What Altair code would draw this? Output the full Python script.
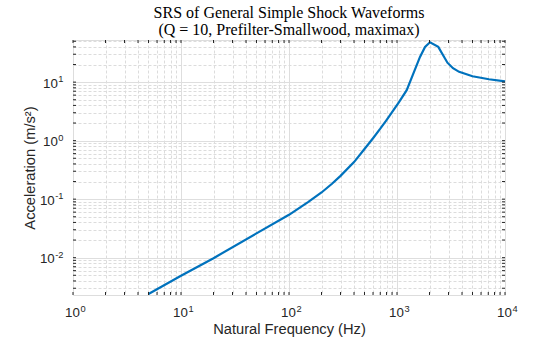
import altair as alt
import pandas as pd

# Natural frequency (Hz) and SRS acceleration (m/s^2)
freq = [5, 10, 20, 50, 100, 150, 200, 250, 300, 400, 500, 600, 700, 800, 924,
        1040, 1230, 1416, 1633, 1818, 2020, 2410, 2930, 3300, 3760, 5000, 7100, 10000]
accel = [0.0024, 0.0049, 0.0098, 0.026, 0.054, 0.089, 0.13, 0.183, 0.25, 0.43,
         0.72, 1.1, 1.6, 2.25, 3.3, 4.5, 7.3, 14, 27, 40, 48, 40, 21.5, 17.3,
         15, 12.6, 11.2, 10.3]

x_domain = [1, 10000]
y_domain = [0.0023, 52.5]

x_major = [1, 10, 100, 1000, 10000]
x_minor = [m * d for d in [1, 10, 100, 1000] for m in range(2, 10)]
y_major = [0.01, 0.1, 1, 10]
y_minor = [m * d for d in [0.001, 0.01, 0.1, 1, 10] for m in range(2, 10)
           if y_domain[0] <= m * d <= y_domain[1]]
x_all = sorted(x_major + x_minor)
y_all = sorted(y_major + y_minor)

W, H = 432, 255
INK = "#262626"
SANS = "Liberation Sans"
LBL = 13.3
SUP = 9.3
TT = 14.7

df = pd.DataFrame({"f": freq, "a": accel})
xt = pd.DataFrame({"v": x_all})
yt = pd.DataFrame({"v": y_all})

xs = alt.Scale(type="log", domain=x_domain, nice=False)
ys = alt.Scale(type="log", domain=y_domain, nice=False)

expo = "'' + round(log(datum.value)/LN10)"
edge = "datum.value <= 1 || datum.value >= 10000"

base = alt.Chart(df)

main = base.mark_line(color="#0072BD", strokeWidth=2.2).encode(
    x=alt.X("f:Q", scale=xs, axis=alt.Axis(
        orient="bottom", values=x_major, labelExpr="'10'", grid=True,
        gridColor="#dedede", gridWidth=1,
        gridOpacity={"condition": {"test": edge, "value": 0}, "value": 1},
        ticks=False, domain=False, labelFlush=False, labelOverlap=False,
        labelFont=SANS, labelFontSize=LBL, labelColor=INK, labelPadding=10.5,
        labelAlign="center", labelBaseline="top", labelOffset=-1,
        title="Natural Frequency (Hz)", titleFont=SANS, titleFontSize=TT,
        titleFontWeight="normal", titleColor=INK, titleX=W / 2, titleY=38.5,
        titleAlign="center", titleBaseline="alphabetic", zindex=0)),
    y=alt.Y("a:Q", scale=ys, axis=alt.Axis(
        orient="left", values=y_major, labelExpr="'10'", grid=True,
        gridColor="#dedede", gridWidth=1,
        ticks=False, domain=False, labelFlush=False, labelOverlap=False,
        labelFont=SANS, labelFontSize=LBL, labelColor=INK,
        labelPadding={"condition": {"test": "datum.value < 1", "value": 18.8}, "value": 15.7},
        labelAlign="right", labelBaseline="middle", labelOffset=1,
        title="Acceleration (m/s\u00b2)", titleFont=SANS, titleFontSize=TT,
        titleFontWeight="normal", titleColor=INK, titleX=-38.5, titleY=H / 2,
        titleAngle=270, titleAlign="center", titleBaseline="alphabetic", zindex=0)),
)

minor = base.mark_line(opacity=0).encode(
    x=alt.X("f:Q", scale=xs, axis=alt.Axis(
        orient="bottom", values=x_minor, grid=True, gridColor="#dcdcdc",
        gridDash=[3, 2], labels=False, ticks=False, domain=False, title=None, zindex=0)),
    y=alt.Y("a:Q", scale=ys, axis=alt.Axis(
        orient="left", values=y_minor, grid=True, gridColor="#dcdcdc",
        gridDash=[3, 2], labels=False, ticks=False, domain=False, title=None, zindex=0)),
)

# superscript exponents of the "10" tick labels
sup = base.mark_line(opacity=0).encode(
    x=alt.X("f:Q", scale=xs, axis=alt.Axis(
        orient="bottom", values=x_major, labelExpr=expo, grid=False, ticks=False,
        domain=False, labelFlush=False, labelOverlap=False, labelFont=SANS,
        labelFontSize=SUP, labelColor=INK, labelAlign="left", labelBaseline="top",
        labelPadding=9, labelOffset=7, title=None, zindex=0)),
    y=alt.Y("a:Q", scale=ys, axis=alt.Axis(
        orient="left", values=y_major, labelExpr=expo, grid=False, ticks=False,
        domain=False, labelFlush=False, labelOverlap=False, labelFont=SANS,
        labelFontSize=SUP, labelColor=INK, labelAlign="right", labelBaseline="middle",
        labelPadding=10, labelOffset=-3.5, title=None, zindex=0)),
)

# inward tick marks on all four sides
tick_x = alt.Chart(xt)
tick_y = alt.Chart(yt)
tb = tick_x.mark_rule(color=INK, strokeWidth=1).encode(
    x=alt.X("v:Q", scale=xs, axis=None), y=alt.value(H), y2=alt.value(H - 3))
tt = tick_x.mark_rule(color=INK, strokeWidth=1).encode(
    x=alt.X("v:Q", scale=xs, axis=None), y=alt.value(0), y2=alt.value(3))
tl = tick_y.mark_rule(color=INK, strokeWidth=1).encode(
    y=alt.Y("v:Q", scale=ys, axis=None), x=alt.value(0), x2=alt.value(3))
tr = tick_y.mark_rule(color=INK, strokeWidth=1).encode(
    y=alt.Y("v:Q", scale=ys, axis=None), x=alt.value(W), x2=alt.value(W - 3))

chart = alt.layer(main, minor, sup, tb, tt, tl, tr).resolve_axis(
    x="independent", y="independent"
).properties(
    width=W, height=H,
    title=alt.TitleParams(
        text=["SRS of General Simple Shock Waveforms",
              "(Q = 10, Prefilter-Smallwood, maximax)"],
        font="Liberation Serif", fontSize=16, fontWeight="normal",
        color="#000000", anchor="middle", frame="group", offset=0, lineHeight=17),
    autosize=alt.AutoSizeParams(type="none"),
    padding={"left": 73, "top": 40, "right": 55, "bottom": 42},
).configure_view(stroke=INK, strokeWidth=1).configure(background="white")

chart.save("out.html", embed_options={"renderer": "svg", "actions": False})
